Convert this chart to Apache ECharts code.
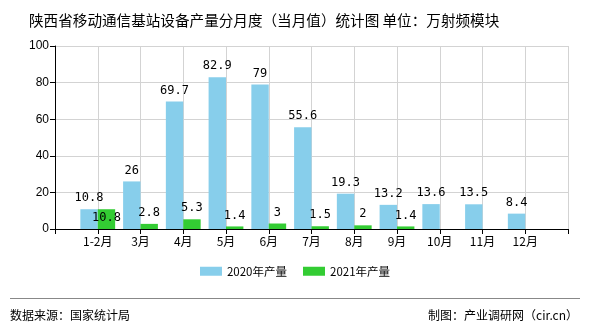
<!DOCTYPE html>
<html>
<head>
<meta charset="utf-8">
<script src="https://cdn.jsdelivr.net/npm/echarts@6/dist/echarts.min.js"></script>
<style>
  html, body { margin: 0; padding: 0; background: #fff; }
  #chart { width: 590px; height: 330px; }
</style>
</head>
<body>
<div id="chart"></div>
<script>
// Monthly output of mobile communication base station equipment, Shaanxi
const months = ['1-2月', '3月', '4月', '5月', '6月', '7月', '8月', '9月', '10月', '11月', '12月'];
const output2020 = [10.8, 26, 69.7, 82.9, 79, 55.6, 19.3, 13.2, 13.6, 13.5, 8.4];
const output2021 = [10.8, 2.8, 5.3, 1.4, 3, 1.5, 2, 1.4];
const yTicks = [0, 20, 40, 60, 80, 100];

const seriesNames = ['2020年产量', '2021年产量'];
const titleText = '陕西省移动通信基站设备产量分月度（当月值）统计图 单位：万射频模块';
const sourceText = '数据来源：国家统计局';
const creditText = '制图：产业调研网（cir.cn）';

// Pad the category axis with an empty slot on each side so bars sit on the ticks
const axisCats = [''].concat(months, ['']);
function pad(arr) {
  const out = [null];
  for (let i = 0; i < months.length; i++) out.push(i < arr.length ? arr[i] : null);
  out.push(null);
  return out;
}
const data2020 = pad(output2020);
// The first 2021 label sits inside its bar to stay clear of the 2020 label
const data2021 = pad(output2021).map((v, i) =>
  i === 1 ? { value: v, label: { position: 'insideTop', distance: 3 } } : v
);

const cjk = '"Noto Sans CJK SC", sans-serif';
const mono = '"DejaVu Sans Mono", "Liberation Mono", monospace';

const chart = echarts.init(document.getElementById('chart'), null, { renderer: 'canvas' });
chart.setOption({
  backgroundColor: '#ffffff',
  animation: false,
  title: {
    text: titleText,
    left: 24, top: 8,
    textStyle: { fontFamily: cjk, fontSize: 14.6, fontWeight: 'normal', color: '#000' }
  },
  legend: {
    data: seriesNames,
    bottom: 48,
    left: 'center',
    itemWidth: 22, itemHeight: 9, itemGap: 16,
    icon: 'rect',
    textStyle: { fontFamily: cjk, fontSize: 11.5, color: '#000' }
  },
  grid: { left: 55, right: 22, top: 46, bottom: 101, containLabel: false },
  xAxis: {
    type: 'category',
    data: axisCats,
    boundaryGap: false,
    axisLine: { lineStyle: { color: '#000', width: 1 } },
    axisTick: { show: true, length: 5, lineStyle: { color: '#000' } },
    axisLabel: { fontFamily: cjk, fontSize: 12, color: '#000', margin: 6, interval: 0 },
    splitLine: { show: true, lineStyle: { color: '#d3d3d3', width: 1 } }
  },
  yAxis: {
    type: 'value',
    min: yTicks[0], max: yTicks[yTicks.length - 1], interval: yTicks[1] - yTicks[0],
    axisLine: { show: true, lineStyle: { color: '#000', width: 1 } },
    axisTick: { show: true, length: 5, lineStyle: { color: '#000' } },
    axisLabel: { fontFamily: 'Arial, "Liberation Sans", sans-serif', fontSize: 12, color: '#000', margin: 6 },
    splitLine: { show: true, lineStyle: { color: '#d3d3d3', width: 1 } }
  },
  series: [
    {
      name: seriesNames[0], type: 'bar', data: data2020,
      barWidth: 17.4, barGap: '0%',
      itemStyle: { color: '#87ceeb' },
      label: { show: true, position: 'top', distance: 5, fontFamily: mono, fontSize: 12, color: '#000' }
    },
    {
      name: seriesNames[1], type: 'bar', data: data2021,
      barWidth: 17.4, barGap: '0%',
      itemStyle: { color: '#33cc33' },
      label: { show: true, position: 'top', distance: 5, fontFamily: mono, fontSize: 12, color: '#000' }
    }
  ],
  graphic: [
    { type: 'line', shape: { x1: 10, y1: 298.5, x2: 580, y2: 298.5 }, style: { stroke: '#888', lineWidth: 1 } },
    { type: 'text', left: 10, top: 309, style: { text: sourceText, font: '12px ' + cjk, fill: '#000' } },
    { type: 'text', right: 12, top: 309, style: { text: creditText, font: '12px ' + cjk, fill: '#000' } }
  ]
});
</script>
</body>
</html>
